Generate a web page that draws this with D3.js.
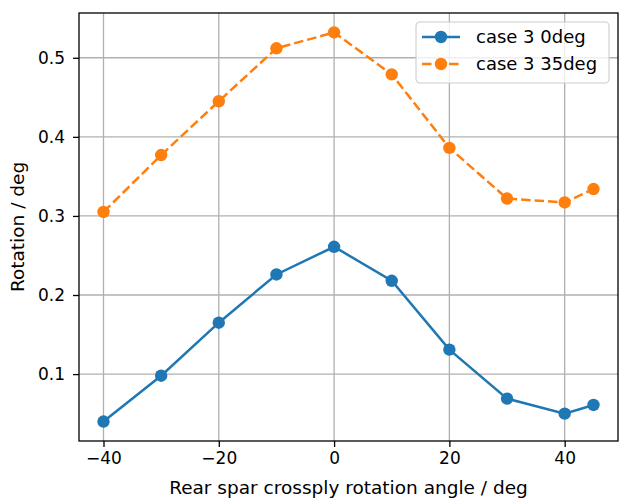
<!DOCTYPE html>
<html>
<head>
<meta charset="utf-8">
<script src="https://cdn.jsdelivr.net/npm/d3@7"></script>
<style>
  body { margin: 0; background: #fff; }
  text { font-family: "DejaVu Sans", sans-serif; fill: #000; }
</style>
</head>
<body>
<div id="chart"></div>
<script>
// data
const angles = [-40, -30, -20, -10, 0, 10, 20, 30, 40, 45];
const case0 = [0.040, 0.098, 0.165, 0.226, 0.261, 0.218, 0.131, 0.069, 0.050, 0.061];
const case35 = [0.305, 0.377, 0.445, 0.512, 0.532, 0.479, 0.386, 0.322, 0.317, 0.334];
const xTicks = [-40, -20, 0, 20, 40];
const yTicks = [0.1, 0.2, 0.3, 0.4, 0.5];
const seriesNames = ["case 3 0deg", "case 3 35deg"];

const width = 619, height = 499;
const margin = {top: 13, right: 1, bottom: 58, left: 79};

const svg = d3.select("#chart").append("svg")
  .attr("width", width)
  .attr("height", height);

// matplotlib style 5% padding
const xPad = (d3.max(angles) - d3.min(angles)) * 0.05;
const allY = case0.concat(case35);
const yPad = (d3.max(allY) - d3.min(allY)) * 0.05;

const x = d3.scaleLinear()
  .domain([d3.min(angles) - xPad, d3.max(angles) + xPad])
  .range([margin.left, width - margin.right]);
const y = d3.scaleLinear()
  .domain([d3.min(allY) - yPad, d3.max(allY) + yPad])
  .range([height - margin.bottom, margin.top]);

const g = svg.append("g");

// grid
g.append("g").selectAll("line").data(xTicks).join("line")
  .attr("x1", d => x(d)).attr("x2", d => x(d))
  .attr("y1", margin.top).attr("y2", height - margin.bottom)
  .attr("stroke", "#b0b0b0").attr("stroke-width", 1.3);
g.append("g").selectAll("line").data(yTicks).join("line")
  .attr("y1", d => y(d)).attr("y2", d => y(d))
  .attr("x1", margin.left).attr("x2", width - margin.right)
  .attr("stroke", "#b0b0b0").attr("stroke-width", 1.3);

// axes
const xAxis = g.append("g")
  .attr("transform", `translate(0,${height - margin.bottom})`)
  .call(d3.axisBottom(x).tickValues(xTicks).tickSize(6).tickPadding(5)
    .tickFormat(d => d < 0 ? "\u2212" + Math.abs(d) : d));
const yAxis = g.append("g")
  .attr("transform", `translate(${margin.left},0)`)
  .call(d3.axisLeft(y).tickValues(yTicks).tickSize(6).tickPadding(8).tickFormat(d3.format(".1f")));

[xAxis, yAxis].forEach(a => {
  a.select(".domain").remove();
  a.selectAll("line").attr("stroke", "#000").attr("stroke-width", 1.3);
  a.selectAll("text").attr("font-size", 17).attr("font-family", "DejaVu Sans, sans-serif");
});

// frame
g.append("rect")
  .attr("x", margin.left).attr("y", margin.top)
  .attr("width", width - margin.right - margin.left)
  .attr("height", height - margin.bottom - margin.top)
  .attr("fill", "none").attr("stroke", "#000").attr("stroke-width", 1.3);

// labels
svg.append("text")
  .attr("x", (margin.left + width - margin.right) / 2)
  .attr("y", 494)
  .attr("text-anchor", "middle")
  .attr("font-size", 18.5)
  .text("Rear spar crossply rotation angle / deg");
svg.append("text")
  .attr("transform", `translate(24,${(margin.top + height - margin.bottom) / 2}) rotate(-90)`)
  .attr("text-anchor", "middle")
  .attr("font-size", 18.5)
  .text("Rotation / deg");

// lines
const series = [
  {name: seriesNames[0], values: case0, color: "#1f77b4", dash: null},
  {name: seriesNames[1], values: case35, color: "#ff7f0e", dash: "9.5,4"}
];
const line = d3.line().x((d, i) => x(angles[i])).y(d => y(d));

series.forEach(s => {
  g.append("path")
    .datum(s.values)
    .attr("d", line)
    .attr("fill", "none")
    .attr("stroke", s.color)
    .attr("stroke-width", 2.5)
    .attr("stroke-dasharray", s.dash);
  g.append("g").selectAll("circle").data(s.values).join("circle")
    .attr("cx", (d, i) => x(angles[i]))
    .attr("cy", d => y(d))
    .attr("r", 6.2)
    .attr("fill", s.color);
});

// legend
const lg = svg.append("g").attr("transform", "translate(416,22)");
lg.append("rect")
  .attr("width", 193).attr("height", 61).attr("rx", 4)
  .attr("fill", "#fff").attr("fill-opacity", 0.8)
  .attr("stroke", "#cccccc").attr("stroke-width", 1.1);
series.forEach((s, i) => {
  const row = lg.append("g").attr("transform", `translate(0,${15 + i * 27})`);
  row.append("line")
    .attr("x1", 6).attr("x2", 44)
    .attr("stroke", s.color).attr("stroke-width", 2.5)
    .attr("stroke-dasharray", s.dash);
  row.append("circle").attr("cx", 25).attr("r", 6.2).attr("fill", s.color);
  row.append("text")
    .attr("x", 60).attr("dy", "0.35em")
    .attr("font-size", 18)
    .text(s.name);
});
</script>
</body>
</html>
